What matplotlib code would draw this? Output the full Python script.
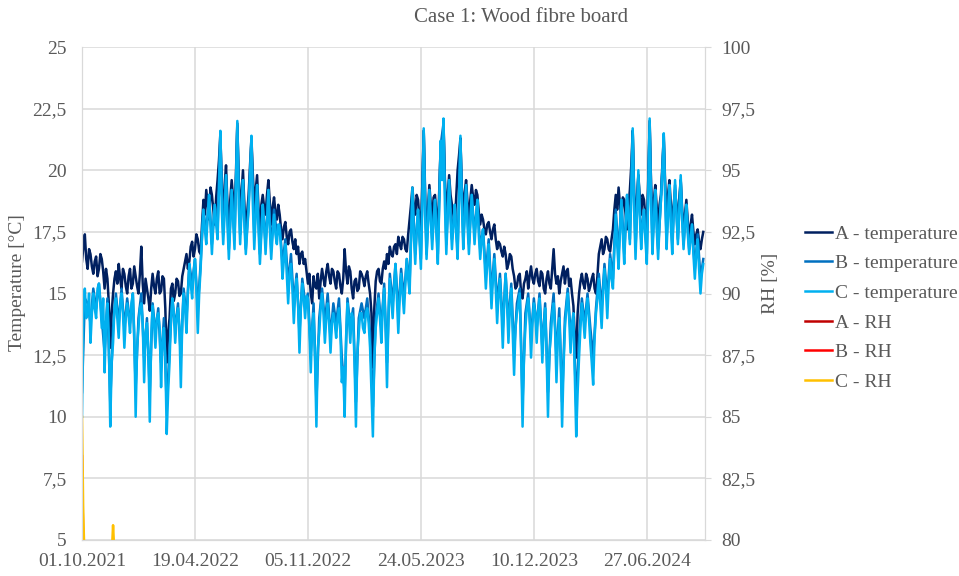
import numpy as np
import pandas as pd
import matplotlib
matplotlib.use('Agg')
import matplotlib.pyplot as plt
import matplotlib.dates as mdates
from matplotlib.ticker import FuncFormatter

# temperature A and C, one value every 2.5 days from 01.10.2021 (20 values = 50 days per row)
temp_a = [16.3, 16.9, 17.4, 16.4, 16.0, 16.8, 16.6, 16.1, 15.8, 16.3, 16.5, 15.7, 16.0, 16.6, 16.4, 15.9, 15.2, 16.0, 15.6, 14.6,
          12.8, 14.2, 15.0, 15.6, 15.9, 15.4, 16.2, 15.6, 15.2, 16.0, 15.8, 15.3, 15.0, 15.7, 16.0, 15.2, 15.4, 16.1, 15.7, 15.3,
          15.0, 15.8, 16.9, 15.4, 14.6, 15.6, 15.2, 14.8, 14.3, 15.2, 15.8, 15.3, 15.0, 15.6, 15.9, 15.0, 15.1, 15.7, 15.6, 14.4,
          12.2, 13.4, 14.0, 15.2, 15.4, 14.7, 15.0, 15.6, 15.5, 14.9, 15.0, 15.7, 16.0, 16.3, 16.6, 16.0, 16.3, 16.9, 17.1, 16.5,
          16.8, 17.4, 17.2, 16.7, 16.6, 17.8, 18.8, 18.2, 19.2, 18.6, 18.0, 19.3, 19.0, 18.4, 17.8, 18.9, 19.6, 20.4, 21.5, 19.2,
          18.4, 19.4, 20.2, 18.6, 17.6, 18.8, 19.6, 18.9, 18.0, 19.8, 21.9, 19.6, 18.2, 19.1, 20.0, 18.6, 17.4, 18.3, 19.0, 20.2,
          21.3, 19.8, 18.6, 19.2, 19.8, 18.4, 17.4, 18.6, 19.0, 18.5, 18.2, 19.0, 19.6, 18.7, 17.8, 18.5, 18.9, 18.3, 18.0, 18.6,
          18.2, 17.6, 17.2, 17.7, 17.9, 17.3, 17.0, 17.5, 17.6, 17.1, 16.8, 17.2, 16.6, 16.9, 16.2, 16.6, 16.7, 16.2, 16.4, 15.9,
          15.4, 15.8, 15.0, 14.6, 15.7, 15.3, 15.2, 15.8, 14.8, 15.5, 16.0, 15.6, 15.3, 15.9, 16.2, 15.7, 15.4, 16.0, 15.9, 15.5,
          15.2, 15.9, 15.8, 15.3, 15.0, 15.6, 16.8, 15.9, 15.4, 16.1, 15.9, 15.2, 14.8, 15.5, 15.6, 15.1, 15.2, 15.9, 15.8, 15.6,
          15.3, 15.7, 15.9, 15.4, 15.0, 14.2, 12.0, 14.4, 15.5, 15.9, 16.0, 15.5, 15.4, 16.0, 16.3, 16.0, 16.6, 16.2, 16.9, 16.6,
          16.5, 16.9, 17.0, 16.6, 17.3, 17.0, 16.8, 17.3, 17.2, 16.8, 16.7, 17.4, 18.0, 18.6, 19.3, 18.5, 18.2, 19.0, 18.8, 18.0,
          17.6, 19.4, 21.6, 18.8, 17.2, 18.4, 19.4, 18.6, 18.0, 18.9, 19.0, 18.2, 17.6, 19.2, 21.0, 20.0, 22.0, 19.6, 18.2, 19.0,
          19.8, 19.0, 18.6, 18.2, 17.8, 18.9, 20.0, 20.6, 21.3, 19.2, 18.4, 19.1, 19.6, 18.7, 18.0, 18.8, 19.4, 18.9, 18.6, 19.2,
          19.0, 18.3, 17.8, 18.2, 18.0, 17.6, 17.4, 17.8, 17.9, 17.5, 17.2, 17.6, 17.8, 17.2, 16.8, 17.1, 17.0, 16.7, 16.5, 16.9,
          16.6, 16.0, 16.2, 16.6, 16.5, 16.0, 15.7, 15.2, 15.3, 15.7, 15.8, 15.0, 14.8, 15.4, 15.6, 15.9, 15.2, 15.7, 16.1, 15.6,
          15.4, 15.8, 16.0, 15.5, 15.3, 15.9, 15.8, 15.2, 15.0, 15.6, 15.9, 15.4, 15.2, 16.0, 16.8, 15.8, 15.4, 15.7, 15.0, 15.5,
          15.8, 16.1, 15.4, 15.9, 16.0, 15.3, 15.6, 15.0, 14.5, 13.2, 12.4, 14.2, 15.0, 15.5, 15.8, 15.4, 15.2, 15.8, 15.6, 15.1,
          15.3, 15.6, 15.8, 15.2, 15.0, 15.7, 16.6, 16.9, 17.2, 16.6, 16.8, 17.3, 17.2, 16.8, 16.7, 17.2, 17.6, 18.4, 19.0, 18.4,
          19.3, 18.6, 18.0, 18.9, 18.8, 18.2, 17.6, 18.5, 19.2, 20.2, 21.6, 19.0, 17.8, 18.9, 19.8, 18.9, 18.2, 19.0, 18.8, 18.1,
          17.6, 19.6, 22.0, 19.4, 18.0, 18.8, 19.4, 18.5, 17.8, 18.6, 19.0, 20.2, 21.4, 19.4, 18.2, 19.0, 19.6, 18.6, 17.8, 18.6,
          19.2, 18.5, 18.0, 18.9, 19.6, 18.4, 17.6, 18.2, 18.8, 17.9, 17.2, 17.8, 18.2, 17.5, 17.0, 17.4, 17.6, 17.1, 16.8, 17.2,
          17.5]

temp_c = [10.0, 14.6, 15.2, 14.0, 14.2, 15.0, 13.0, 14.2, 15.0, 14.4, 14.0, 15.2, 15.4, 14.6, 13.6, 14.8, 11.8, 13.8, 14.6, 13.2,
          9.6, 12.2, 13.0, 14.4, 14.8, 14.0, 13.2, 14.5, 15.0, 14.2, 12.8, 14.0, 14.6, 14.1, 13.4, 14.6, 15.0, 13.4, 10.0, 12.8,
          13.6, 14.4, 14.6, 13.8, 11.4, 13.4, 13.8, 12.6, 9.8, 13.2, 14.5, 13.8, 12.8, 14.0, 14.2, 13.6, 11.2, 13.0, 13.6, 12.4,
          9.3, 11.0, 12.2, 14.0, 14.8, 14.2, 13.0, 14.0, 14.4, 13.6, 11.2, 13.8, 15.0, 14.4, 13.4, 15.0, 16.2, 15.4, 14.8, 15.8,
          16.4, 15.2, 13.4, 15.0, 16.0, 17.4, 18.4, 17.6, 17.0, 18.2, 19.0, 17.8, 16.6, 17.8, 18.6, 17.8, 17.2, 19.2, 21.6, 18.4,
          17.0, 18.2, 19.8, 17.8, 16.4, 17.8, 19.2, 18.0, 16.8, 19.4, 22.0, 18.6, 17.0, 18.4, 19.6, 17.8, 16.6, 17.6, 18.4, 19.8,
          21.4, 18.6, 16.8, 18.2, 19.4, 17.6, 16.2, 17.4, 18.6, 17.8, 16.6, 17.8, 19.2, 17.6, 16.4, 17.4, 18.2, 17.4, 17.0, 17.8,
          17.6, 16.8, 15.6, 16.4, 17.0, 15.8, 14.6, 15.8, 16.2, 15.2, 13.8, 15.0, 15.6, 14.6, 12.6, 14.4, 15.4, 14.8, 14.0, 14.9,
          14.8, 13.6, 11.8, 13.6, 14.2, 12.4, 9.6, 12.8, 13.4, 14.4, 15.0, 14.2, 13.0, 14.0, 14.6, 13.8, 12.6, 13.8, 14.2, 13.8,
          13.2, 14.0, 14.4, 13.4, 11.4, 12.0, 10.0, 13.2, 14.6, 14.0, 13.0, 14.2, 14.0, 12.2, 9.6, 12.6, 13.4, 14.2, 14.2, 13.6,
          13.4, 14.2, 14.4, 13.8, 12.8, 11.0, 9.2, 12.4, 13.6, 14.2, 14.8, 14.0, 13.0, 14.4, 15.2, 13.6, 11.2, 14.0, 15.6, 14.8,
          14.0, 15.2, 16.2, 14.8, 13.4, 14.8, 15.8, 15.0, 14.2, 15.4, 16.4, 15.6, 15.0, 17.2, 19.3, 17.4, 16.2, 17.6, 18.4, 17.2,
          16.0, 18.6, 21.7, 18.2, 16.4, 17.8, 19.2, 18.0, 16.8, 18.0, 18.8, 17.4, 16.2, 18.6, 21.2, 19.6, 22.1, 18.6, 16.6, 18.2,
          19.6, 18.0, 16.8, 17.8, 18.6, 17.4, 16.4, 18.8, 21.4, 18.6, 16.8, 18.0, 19.4, 17.8, 16.6, 17.8, 19.0, 18.0, 17.0, 18.0,
          18.8, 17.4, 16.4, 17.2, 17.6, 16.4, 15.2, 16.2, 17.0, 15.8, 14.4, 15.6, 16.4, 15.2, 13.8, 15.0, 15.6, 14.4, 12.8, 14.6,
          15.8, 14.6, 13.0, 14.4, 15.2, 13.4, 11.7, 13.6, 14.2, 14.6, 15.0, 12.6, 9.6, 12.4, 13.6, 14.4, 14.8, 14.0, 12.4, 13.8,
          14.6, 14.2, 13.0, 14.2, 14.8, 13.8, 12.2, 13.6, 14.4, 12.6, 10.0, 12.6, 13.2, 14.2, 14.6, 13.6, 11.4, 13.2, 14.0, 12.4,
          9.6, 12.0, 13.6, 14.4, 15.0, 14.0, 12.6, 13.8, 14.2, 11.6, 9.2, 11.0, 12.4, 13.6, 14.6, 14.0, 13.2, 14.2, 14.8, 14.0,
          13.0, 12.2, 11.3, 13.2, 14.2, 14.8, 15.6, 14.6, 13.6, 15.0, 16.0, 15.2, 14.0, 15.4, 16.4, 15.6, 15.2, 16.8, 18.2, 17.0,
          16.0, 17.6, 18.8, 17.4, 16.2, 17.8, 19.0, 18.0, 17.0, 19.0, 21.7, 18.4, 16.4, 18.2, 20.0, 18.2, 16.8, 17.8, 18.4, 17.2,
          16.2, 19.2, 22.1, 18.6, 16.6, 18.0, 19.2, 17.6, 16.4, 17.8, 18.8, 20.0, 21.5, 18.8, 16.8, 18.2, 19.4, 17.8, 16.6, 18.2,
          19.6, 18.2, 17.0, 18.4, 19.8, 18.0, 16.8, 17.8, 18.6, 17.4, 16.6, 17.2, 17.8, 16.6, 15.6, 16.6, 17.2, 16.0, 15.0, 15.8,
          16.2]

# temperature B, one value every 5 days
temp_b = [11.0, 14.8, 14.6, 13.8, 15.2, 14.4, 15.4, 14.0, 12.6, 14.8,
          10.6, 13.6, 15.0, 13.8, 15.2, 13.6, 14.8, 13.8, 15.0, 11.2,
          14.0, 15.0, 12.4, 14.0, 11.0, 14.6, 13.4, 14.4, 12.2, 14.0,
          10.4, 12.8, 14.8, 13.6, 14.6, 12.4, 15.2, 14.0, 16.2, 15.4,
          16.4, 14.4, 16.2, 18.4, 17.4, 19.0, 17.0, 18.6, 17.6, 21.4,
          17.4, 19.8, 16.8, 19.2, 17.2, 21.8, 17.4, 19.6, 16.8, 18.6,
          21.2, 17.4, 19.4, 16.6, 18.6, 17.0, 19.2, 16.8, 18.4, 17.4,
          17.8, 16.2, 17.2, 15.4, 16.6, 14.6, 15.8, 13.4, 15.6, 14.6,
          15.0, 12.6, 14.6, 10.6, 14.0, 15.2, 13.8, 15.0, 13.2, 14.6,
          13.8, 14.8, 12.4, 11.0, 14.8, 13.6, 14.4, 10.6, 14.0, 14.6,
          14.0, 14.8, 13.4, 10.4, 14.0, 15.0, 13.6, 15.4, 12.2, 15.8,
          14.6, 16.2, 14.2, 16.0, 14.8, 16.4, 15.4, 19.2, 16.6, 18.4,
          16.4, 21.6, 16.6, 19.2, 17.2, 18.8, 16.6, 21.0, 21.9, 17.0,
          19.6, 17.2, 18.6, 16.8, 21.2, 17.2, 19.4, 17.0, 19.0, 17.4,
          18.8, 16.8, 17.6, 15.8, 17.2, 15.0, 16.6, 14.6, 15.8, 13.6,
          15.8, 13.8, 15.4, 12.6, 14.6, 15.2, 10.6, 14.2, 15.0, 13.2,
          14.8, 13.6, 15.0, 12.8, 14.6, 11.0, 13.8, 15.0, 12.4, 14.4,
          10.6, 14.0, 15.2, 13.4, 14.0, 10.4, 13.2, 14.8, 13.8, 15.0,
          13.6, 12.4, 14.4, 15.8, 14.4, 16.2, 14.8, 16.6, 15.6, 18.4,
          16.6, 18.8, 16.6, 19.0, 17.2, 21.6, 16.8, 19.8, 17.2, 18.4,
          16.6, 21.8, 17.0, 19.2, 16.8, 18.8, 21.2, 17.2, 19.4, 17.0,
          19.4, 17.2, 19.6, 17.0, 18.6, 16.8, 17.8, 16.0, 17.4, 15.6,
          16.4]

# RH, mostly below the 80 % shown on the axis
rh_days = [0, 1, 2, 3, 4, 6, 53, 55, 57, 60, 1100]
rh_a = [82.8, 81.0, 79.6, 79.0, 78.6, 78.2, 78.0, 78.4, 78.0, 77.6, 76.0]
rh_b = [83.4, 81.6, 80.2, 79.4, 78.8, 78.4, 78.2, 78.6, 78.2, 77.8, 76.2]
rh_c = [85.0, 83.2, 81.4, 80.4, 79.6, 79.0, 79.6, 80.6, 79.6, 79.0, 77.0]

start = pd.Timestamp('2021-10-01')
dates_ac = pd.date_range(start, periods=len(temp_a), freq='60h')
dates_b = pd.date_range(start, periods=len(temp_b), freq='5D')
dates_rh = start + pd.to_timedelta(rh_days, unit='D')

grey = '#595959'
gridc = '#D9D9D9'
plt.rcParams['font.family'] = ['Liberation Serif', 'DejaVu Serif']
plt.rcParams['font.size'] = 14

fig = plt.figure(figsize=(9.59, 5.76), dpi=100)
ax = fig.add_axes([82/959, 36/576, 623/959, 493/576])
ax2 = ax.twinx()

lw = 1.8
la, = ax.plot(dates_ac, temp_a, color='#002060', lw=lw, label='A - temperature')
lb, = ax.plot(dates_b, temp_b, color='#0070C0', lw=lw, label='B - temperature')
lc, = ax.plot(dates_ac, temp_c, color='#00B0F0', lw=lw, label='C - temperature')
ra, = ax2.plot(dates_rh, rh_a, color='#C00000', lw=lw, label='A - RH')
rb, = ax2.plot(dates_rh, rh_b, color='#FF0000', lw=lw, label='B - RH')
rc, = ax2.plot(dates_rh, rh_c, color='#FFC000', lw=lw, label='C - RH')

comma = FuncFormatter(lambda v, p: ('%g' % v).replace('.', ','))

ax.set_ylim(5, 25)
ax.set_yticks(np.arange(5, 25.1, 2.5))
ax.yaxis.set_major_formatter(comma)
ax2.set_ylim(80, 100)
ax2.set_yticks(np.arange(80, 100.1, 2.5))
ax2.yaxis.set_major_formatter(comma)

ax.set_xlim(start, start + pd.Timedelta(days=1103))
ax.set_xticks(pd.date_range(start, periods=6, freq='200D'))
ax.xaxis.set_major_formatter(mdates.DateFormatter('%d.%m.%Y'))

ax.grid(True, color=gridc, lw=1.1)
ax.set_axisbelow(True)
for a in (ax, ax2):
    for s in a.spines.values():
        s.set_color(gridc)
    a.spines['top'].set_visible(False)
ax.tick_params(axis='both', length=0, colors=grey, labelsize=14)
ax.tick_params(axis='y', pad=11)
ax.tick_params(axis='x', pad=9)
ax2.tick_params(axis='y', length=4, direction='out', colors=grey, labelsize=14, pad=8)
ax2.tick_params(axis='y', color=gridc)

fig.text(18/959, 293/576, 'Temperature [°C]', rotation=90, ha='center', va='center', color=grey, fontsize=14)
fig.text(771/959, 293/576, 'RH [%]', rotation=90, ha='center', va='center', color=grey, fontsize=14)
fig.text(521/959, 1 - 18/576, 'Case 1: Wood fibre board', ha='center', va='center', color=grey, fontsize=15)

leg = fig.legend(handles=[la, lb, lc, ra, rb, rc], loc='upper left',
                 bbox_to_anchor=(805/959, 1 - 225/576), frameon=False,
                 borderaxespad=0, borderpad=0, handlelength=1.4,
                 handletextpad=0.15, labelspacing=0.62, fontsize=14)
for t in leg.get_texts():
    t.set_color(grey)

fig.savefig('out.png', dpi=100)
